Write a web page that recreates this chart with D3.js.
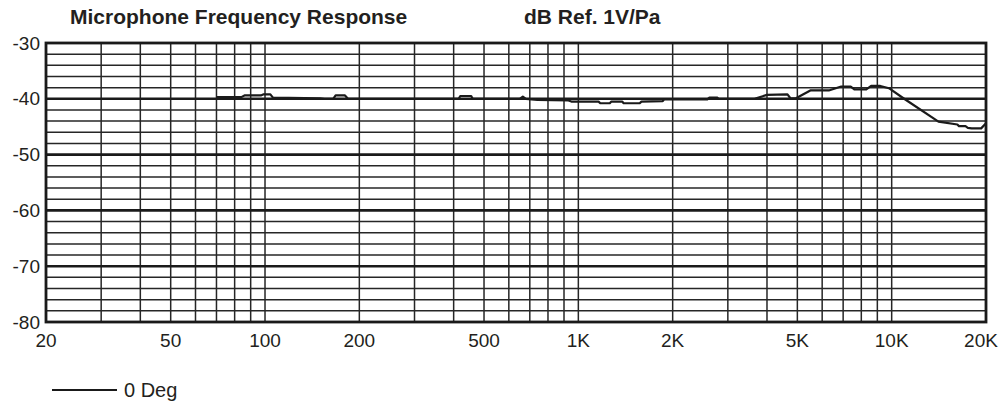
<!DOCTYPE html>
<html>
<head>
<meta charset="utf-8">
<script src="https://cdn.jsdelivr.net/npm/d3@7"></script>
<style>
body { margin: 0; background: #fff; }
text { font-family: "Liberation Sans", Arial, Helvetica, sans-serif; fill: #231f20; }
.title { font-weight: bold; font-size: 21px; }
.tick-lbl { font-size: 19px; }
.grid { stroke: #262626; stroke-width: 1.5px; }
.grid-major { stroke: #1a1a1a; stroke-width: 2.6px; }
.curve { fill: none; stroke: #1a1a1a; stroke-width: 2.2px; stroke-linejoin: round; }
</style>
</head>
<body>
<svg width="1000" height="402"></svg>
<script>
// measured response, 0 degree
var freq = [70, 84, 86, 97, 99, 104, 106, 150, 155, 165, 168, 180, 184, 415, 420, 455, 460,
  650, 665, 680, 740, 930, 950, 1160, 1175, 1260, 1275, 1380, 1395, 1570, 1590, 1860, 1880,
  2580, 2620, 2780, 2800, 3650, 4000, 4650, 4750, 4950, 5500, 6300, 6900, 7400, 7600, 8300,
  8600, 9200, 9800, 10900, 14100, 16200, 16400, 17200, 17500, 18000, 19300, 20000];
var db = [-39.7, -39.7, -39.4, -39.4, -39.2, -39.2, -39.8, -39.9, -40.0, -40.0, -39.4, -39.4, -40.0, -40.0, -39.5, -39.5, -40.0,
  -40.0, -39.6, -40.0, -40.2, -40.3, -40.5, -40.5, -40.8, -40.8, -40.5, -40.5, -40.8, -40.8, -40.5, -40.4, -40.1,
  -40.1, -39.8, -39.8, -40.0, -40.0, -39.3, -39.2, -39.9, -39.9, -38.5, -38.5, -37.8, -37.8, -38.3, -38.3,
  -37.7, -37.7, -38.1, -39.9, -44.1, -44.6, -44.9, -44.9, -45.2, -45.3, -45.3, -44.4];

var xTicks = [20, 50, 100, 200, 500, 1000, 2000, 5000, 10000, 20000];
var xLabels = ["20", "50", "100", "200", "500", "1K", "2K", "5K", "10K", "20K"];
var yTicks = [-30, -40, -50, -60, -70, -80];

var svg = d3.select("svg");
var plotL = 46, plotR = 986, plotT = 43, plotB = 322;

var x = d3.scaleLog().domain([20, 20000]).range([plotL, plotR]);
var y = d3.scaleLinear().domain([-80, -30]).range([plotB, plotT]);

// vertical grid
svg.append("g").selectAll("line")
  .data(x.ticks())
  .enter().append("line")
  .attr("class", "grid")
  .attr("x1", function(d) { return x(d); })
  .attr("x2", function(d) { return x(d); })
  .attr("y1", plotT).attr("y2", plotB);

// horizontal grid, every 2 dB
svg.append("g").selectAll("line")
  .data(d3.range(-78, -30, 2))
  .enter().append("line")
  .attr("class", function(d) { return d % 10 == 0 ? "grid-major" : "grid"; })
  .attr("x1", plotL).attr("x2", plotR)
  .attr("y1", function(d) { return y(d); })
  .attr("y2", function(d) { return y(d); });

// frame
svg.append("rect")
  .attr("x", plotL).attr("y", plotT)
  .attr("width", plotR - plotL).attr("height", plotB - plotT)
  .attr("fill", "none").attr("stroke", "#1a1a1a").attr("stroke-width", 2.8);

// y labels
svg.append("g").selectAll("text")
  .data(yTicks)
  .enter().append("text")
  .attr("class", "tick-lbl")
  .attr("x", plotL - 6)
  .attr("y", function(d) { return y(d); })
  .attr("dy", "0.35em")
  .attr("text-anchor", "end")
  .text(function(d) { return d; });

// x labels
svg.append("g").selectAll("text")
  .data(xTicks)
  .enter().append("text")
  .attr("class", "tick-lbl")
  .attr("x", function(d, i) { return i == xTicks.length - 1 ? x(d) - 5 : x(d); })
  .attr("y", 347)
  .attr("text-anchor", "middle")
  .text(function(d, i) { return xLabels[i]; });

var line = d3.line()
  .x(function(d, i) { return x(freq[i]); })
  .y(function(d) { return y(d); });

svg.append("path")
  .datum(db)
  .attr("class", "curve")
  .attr("d", line);

// titles
svg.append("text").attr("class", "title").attr("x", 70).attr("y", 24).text("Microphone Frequency Response");
svg.append("text").attr("class", "title").attr("x", 524).attr("y", 24).text("dB Ref. 1V/Pa");

// legend
svg.append("line")
  .attr("x1", 52).attr("x2", 117).attr("y1", 390).attr("y2", 390)
  .attr("stroke", "#1a1a1a").attr("stroke-width", 2.2);
svg.append("text").attr("x", 124).attr("y", 397).style("font-size", "20px").text("0 Deg");
</script>
</body>
</html>
